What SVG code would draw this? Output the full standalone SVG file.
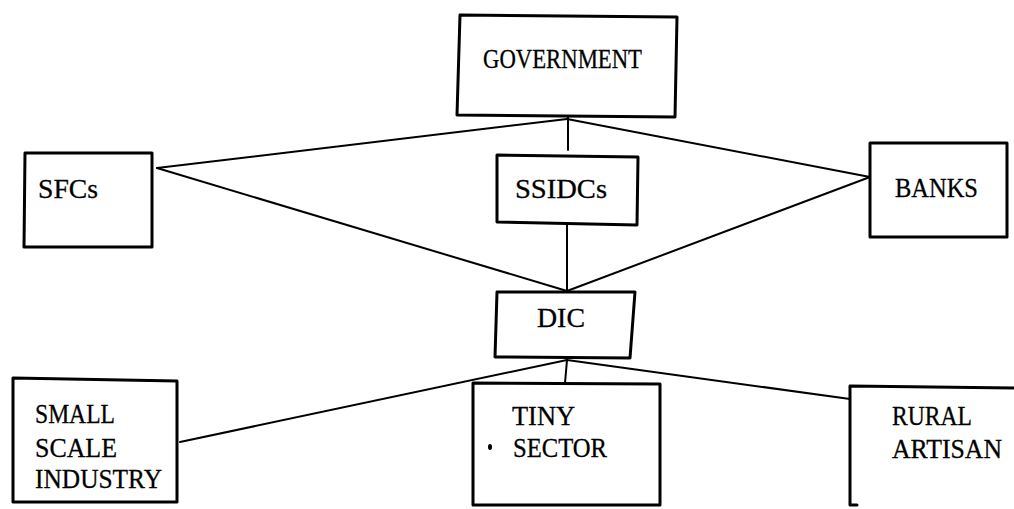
<svg xmlns="http://www.w3.org/2000/svg" width="1014" height="509" viewBox="0 0 1014 509">
<style>
.box{fill:none;stroke:#000;stroke-width:3;stroke-linejoin:round;stroke-linecap:round}
.ln{fill:none;stroke:#000;stroke-width:2;stroke-linecap:round}
.t{font-family:"Liberation Serif","Times New Roman",serif;font-size:28px;fill:#000;stroke:#000;stroke-width:0.3}
</style>
<rect width="1014" height="509" fill="#fff"/>
<g id="connectors">
<line class="ln" x1="157" y1="168" x2="567" y2="119"/>
<line class="ln" x1="157" y1="168" x2="567" y2="291"/>
<line class="ln" x1="567" y1="119" x2="870" y2="177"/>
<line class="ln" x1="870" y1="177" x2="567" y2="291"/>
<line class="ln" x1="568" y1="117" x2="568" y2="150"/>
<line class="ln" x1="567" y1="225" x2="567" y2="291"/>
<line class="ln" x1="567" y1="360" x2="180" y2="442"/>
<line class="ln" x1="567" y1="360" x2="565" y2="383"/>
<line class="ln" x1="567" y1="360" x2="850" y2="399"/>
</g>
<g id="government">
<path class="box" d="M460,15 L677,17 L675,117 L457,115 Z"/>
<text class="t" x="483" y="68" textLength="159" lengthAdjust="spacingAndGlyphs">GOVERNMENT</text>
</g>
<g id="sfcs">
<path class="box" d="M25,153 L152,153 L152,247 L24,247 Z"/>
<text class="t" x="38" y="198" textLength="60" lengthAdjust="spacingAndGlyphs">SFCs</text>
</g>
<g id="ssidcs">
<path class="box" d="M497,155 L638,157 L637,225 L497,222 Z"/>
<text class="t" x="515" y="198" textLength="92" lengthAdjust="spacingAndGlyphs">SSIDCs</text>
</g>
<g id="banks">
<path class="box" d="M870,143 L1007,143 L1007,237 L870,237 Z"/>
<text class="t" x="895" y="197" textLength="83" lengthAdjust="spacingAndGlyphs">BANKS</text>
</g>
<g id="dic">
<path class="box" d="M497,292 L635,292 L630,358 L495,357 Z"/>
<text class="t" x="537" y="327" textLength="48" lengthAdjust="spacingAndGlyphs">DIC</text>
</g>
<g id="small-scale-industry">
<path class="box" d="M13,378 L177,381 L177,502 L13,502 Z"/>
<text class="t" x="35" y="423" textLength="80" lengthAdjust="spacingAndGlyphs">SMALL</text>
<text class="t" x="35" y="457" textLength="82" lengthAdjust="spacingAndGlyphs">SCALE</text>
<text class="t" x="35" y="488" textLength="127" lengthAdjust="spacingAndGlyphs">INDUSTRY</text>
</g>
<g id="tiny-sector">
<path class="box" d="M473,383 L660,384 L660,505 L473,505 Z"/>
<text class="t" x="512" y="425" textLength="63" lengthAdjust="spacingAndGlyphs">TINY</text>
<text class="t" x="513" y="457" textLength="94" lengthAdjust="spacingAndGlyphs">SECTOR</text>
<ellipse cx="490" cy="447" rx="2" ry="3" fill="#000"/>
</g>
<g id="rural-artisan">
<path class="box" d="M1014,388 L850,386 L850,505 L857,505"/>
<text class="t" x="892" y="425" textLength="80" lengthAdjust="spacingAndGlyphs">RURAL</text>
<text class="t" x="892" y="458" textLength="110" lengthAdjust="spacingAndGlyphs">ARTISAN</text>
</g>
</svg>
